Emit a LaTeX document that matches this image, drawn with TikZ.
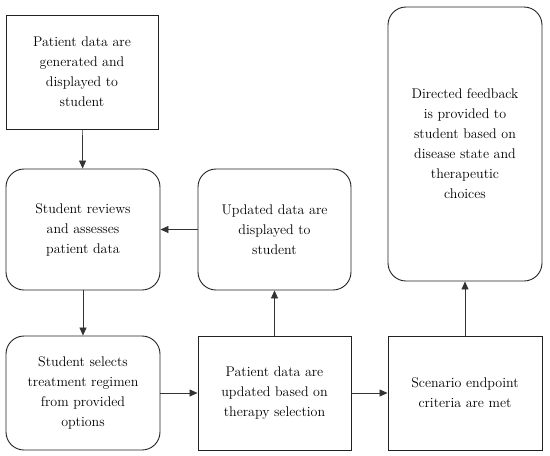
\documentclass[tikz,border=0pt]{standalone}
\usepackage{xcolor}
\usepackage{tikz}
\usetikzlibrary{arrows.meta}
\definecolor{flowline}{HTML}{222222}
\definecolor{flowarrow}{HTML}{333333}

\begin{document}
\begin{tikzpicture}[x=1pt,y=-1pt,
  flowbox/.style={draw=flowline,line width=0.9pt,align=center,inner sep=0pt,
    font=\fontsize{14}{20}\selectfont},
  flowround/.style={flowbox,rounded corners=18pt},
  flowarr/.style={draw=flowarrow,line width=0.7pt,-{Triangle[length=8pt,width=7pt]}}]
  \useasboundingbox (0,0) rectangle (550,456);
  \node[flowbox,minimum width=152pt,minimum height=114pt] (gen) at (82,72)
    {Patient data are\\generated and\\displayed to\\student};
  \node[flowround,minimum width=154pt,minimum height=121pt] (review) at (83,229.5)
    {Student reviews\\and assesses\\patient data};
  \node[flowround,minimum width=153pt,minimum height=121pt] (updated) at (274.5,229.5)
    {Updated data are\\displayed to\\student};
  \node[flowround,minimum width=154pt,minimum height=114pt] (select) at (83,393)
    {Student selects\\treatment regimen\\from provided\\options};
  \node[flowbox,minimum width=153pt,minimum height=114pt] (update) at (274.5,393)
    {Patient data are\\updated based on\\therapy selection};
  \node[flowbox,minimum width=154pt,minimum height=114pt] (endpoint) at (465,393)
    {Scenario endpoint\\criteria are met};
  \node[flowround,minimum width=154pt,minimum height=274pt] (feedback) at (465,144)
    {Directed feedback\\is provided to\\student based on\\disease state and\\therapeutic\\choices};
  \draw[flowarr] (gen) -- (review);
  \draw[flowarr] (review) -- (select);
  \draw[flowarr] (select) -- (update);
  \draw[flowarr] (update) -- (updated);
  \draw[flowarr] (updated) -- (review);
  \draw[flowarr] (update) -- (endpoint);
  \draw[flowarr] (endpoint) -- (feedback);
\end{tikzpicture}
\end{document}
